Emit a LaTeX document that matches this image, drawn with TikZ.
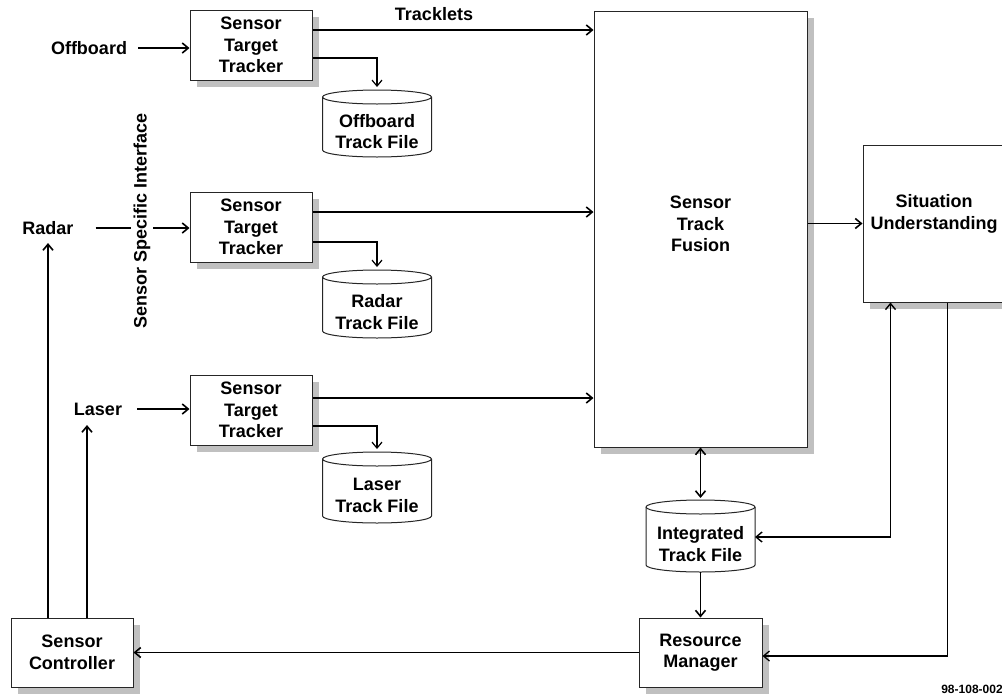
\documentclass[tikz,border=0pt]{standalone}
\usepackage{fontspec}
\setmainfont{Liberation Sans}
\usetikzlibrary{arrows.meta,shadows,calc}
\definecolor{shadowgray}{RGB}{192,192,192}
\newcommand\tfile[5]{%
  \path[cyl] (#2-54.5,#3+7) -- (#2-54.5,#4-7)
    .. controls +(0,3.87) and +(-30.1,0) .. (#2,#4)
    .. controls +(30.1,0) and +(0,3.87) .. (#2+54.5,#4-7)
    -- (#2+54.5,#3+7)
    .. controls +(0,-3.87) and +(30.1,0) .. (#2,#3)
    .. controls +(-30.1,0) and +(0,-3.87) .. (#2-54.5,#3+7) -- cycle;
  \draw[draw=black!85,line width=1pt] (#2-54.5,#3+7)
    .. controls +(0,3.87) and +(-30.1,0) .. (#2,#3+14)
    .. controls +(30.1,0) and +(0,3.87) .. (#2+54.5,#3+7);
  \node[lbl] (#1) at (#2,{(#3+#4)/2+8}) {#5};
  \coordinate (#1-top) at (#2,#3);
  \coordinate (#1-bot) at (#2,#4);
  \coordinate (#1-right) at (#2+54.5,{(#3+#4)/2+1});
}
\begin{document}
\begin{tikzpicture}[x=1pt,y=-1pt,
  font=\fontsize{18}{21.5}\selectfont\bfseries,
  box/.style={draw=black!85, line width=1pt, fill=white,
    drop shadow={shadow xshift=7pt,shadow yshift=-7pt,fill=shadowgray,opacity=1},
    align=center, inner sep=0pt},
  lbl/.style={inner sep=0pt, align=center},
  cyl/.style={draw=black!85, line width=1pt, fill=white},
  tip/.style={Straight Barb[length=6pt,width=10pt]},
  conn/.style={line width=1.6pt, -{Straight Barb[length=6pt,width=10pt]}},
  thinconn/.style={line width=1.2pt, -{Straight Barb[length=6pt,width=10pt]}},
  dconn/.style={line width=1.6pt, {Straight Barb[length=6pt,width=10pt]}-{Straight Barb[length=6pt,width=10pt]}},
]
\useasboundingbox (0,0) rectangle (1002,694);
\clip (0,0) rectangle (1002,694);

% boxes
\node[box, minimum width=122pt, minimum height=70pt] (t1) at (251,45) {Sensor\\Target\\Tracker};
\node[box, minimum width=122pt, minimum height=70pt] (t2) at (251,227) {Sensor\\Target\\Tracker};
\node[box, minimum width=122pt, minimum height=70pt] (t3) at (251,410) {Sensor\\Target\\Tracker};
\node[box, minimum width=213pt, minimum height=436pt] (fusion) at (700.5,229) {};
\node[lbl] (fusiontxt) at (700.5,224) {Sensor\\Track\\Fusion};
\node[box, minimum width=141pt, minimum height=157pt] (su) at (933.5,223.5) {};
\node[lbl] (sutxt) at (934,214) {Situation\\Understanding};
\node[box, minimum width=123pt, minimum height=69pt] (rm) at (700.5,652.5) {Resource\\Manager};
\node[box, minimum width=122pt, minimum height=69pt] (sc) at (72,652.5) {Sensor\\Controller};

% track files
\tfile{of}{377}{90}{157}{Offboard\\Track File}
\tfile{rf}{377}{270}{338}{Radar\\Track File}
\tfile{lf}{377}{452}{523}{Laser\\Track File}
\tfile{itf}{700.5}{500}{572}{Integrated\\Track File}

% labels
\node[lbl] (offb) at (89,48) {Offboard};
\node[lbl] (radar) at (48,228) {Radar};
\node[lbl] (laser) at (98,409) {Laser};
\node[lbl] (tracklets) at (434,14) {Tracklets};
\node[lbl, font=\fontsize{12}{14}\selectfont\bfseries] (code) at (972,689) {98-108-002};

% inputs
\draw[conn] ([xshift=11pt]offb.east) -- (offb.east -| t1.west);
\draw[conn] ([xshift=22pt]radar.east) -- (radar.east -| t2.west);
\draw[conn] ([xshift=15pt]laser.east) -- (laser.east -| t3.west);
\node[lbl, rotate=90, fill=white, inner xsep=1pt, inner ysep=3pt] (ssi) at (142,221) {Sensor Specific Interface};

% tracker outputs
\draw[conn] ($(t1.east)+(0,-15)$) coordinate (a1) -- (a1 -| fusion.west);
\draw[conn] ($(t2.east)+(0,-15)$) coordinate (a2) -- (a2 -| fusion.west);
\draw[conn] ($(t3.east)+(0,-12)$) coordinate (a3) -- (a3 -| fusion.west);
\draw[thinconn, shorten >=3pt] ($(t1.east)+(0,13)$) -| (of-top);
\draw[thinconn, shorten >=3pt] ($(t2.east)+(0,15)$) -| (rf-top);
\draw[thinconn, shorten >=3pt] ($(t3.east)+(0,16)$) -| (lf-top);

% fusion and beyond
\draw[conn] (fusion.east |- su.west) -- (su.west);
\draw[dconn, shorten >=2pt] (fusion.south -| itf-top) -- (itf-top);
\draw[dconn, line width=1.4pt] (itf-right) -| ($(su.south west)+(28,0)$);
\draw[conn, line width=1.3pt] ($(su.south west)+(85,0)$) |- ($(rm.east)+(0,3.5)$);
\draw[conn] (itf-bot) -- (rm.north);
\draw[conn] (rm.west) -- (sc.east);

% controller outputs
\coordinate (upR) at (48,243);
\coordinate (upL) at (87,425);
\draw[conn] (sc.north -| upR) -- (upR);
\draw[conn] (sc.north -| upL) -- (upL);
\end{tikzpicture}
\end{document}
